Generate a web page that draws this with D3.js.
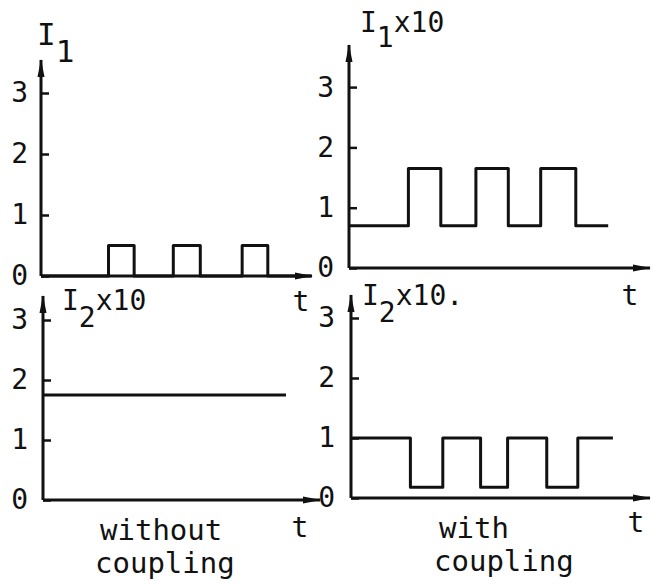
<!DOCTYPE html>
<html>
<head>
<meta charset="utf-8">
<script src="https://cdn.jsdelivr.net/npm/d3@7"></script>
<style>
  body { margin: 0; background: #fff; }
  text { font-family: "DejaVu Sans Mono", monospace; fill: #111; }
</style>
</head>
<body>
<div id="graph-area"></div>
<script>
// tick values shared by all four panels
const Y_TICKS = [0, 1, 2, 3]

// step signals: switching times (0..100 time units) and levels after each switch
const tI1Without = [0, 25, 34.5, 49, 59, 74.5, 84, 100]
const i1Without = [0, 0.5, 0, 0.5, 0, 0.5, 0, 0]

const tI1With = [0, 22, 34, 47, 59, 71, 84, 96]
const i1With = [0.7, 1.65, 0.7, 1.65, 0.7, 1.65, 0.7, 0.7]

const tI2Without = [0, 90]
const i2Without = [1.75, 1.75]

const tI2With = [0, 22, 34, 48, 58, 72.5, 84, 97]
const i2With = [1, 0.18, 1, 0.18, 1, 0.18, 1, 1]

// labels
const titles = [
  { main: 'I', sub: '1', rest: '' },
  { main: 'I', sub: '1', rest: 'x10' },
  { main: 'I', sub: '2', rest: 'x10' },
  { main: 'I', sub: '2', rest: 'x10.' }
]
const captions = [['without', 'coupling'], ['with', 'coupling']]

// panel layout (pixels)
const panels = [
  { t: tI1Without, v: i1Without, left: 41, bottom: 276, unit: 61, top: 60, right: 312,
    title: titles[0], titlePos: [37, 45], titleSize: 31, subDy: 17, tPos: [301, 311], pad: 13 },
  { t: tI1With, v: i1With, left: 349, bottom: 268, unit: 60.3, top: 45, right: 650,
    title: titles[1], titlePos: [360, 32], titleSize: 28, subDy: 15, tPos: [630, 305], pad: 15 },
  { t: tI2Without, v: i2Without, left: 43, bottom: 500, unit: 60, top: 296, right: 320,
    title: titles[2], titlePos: [62, 310], titleSize: 28, subDy: 17, tPos: [300, 537], pad: 15 },
  { t: tI2With, v: i2With, left: 351, bottom: 498, unit: 60, top: 295, right: 650,
    title: titles[3], titlePos: [362, 305], titleSize: 28, subDy: 17, tPos: [636, 532], pad: 16 }
]

const svg = d3.select('#graph-area')
  .append('svg')
  .attr('width', 653)
  .attr('height', 585)

// arrow head for axes
svg.append('defs').append('marker')
  .attr('id', 'arrow')
  .attr('viewBox', '0 -4 18 8')
  .attr('refX', 17)
  .attr('refY', 0)
  .attr('markerWidth', 18)
  .attr('markerHeight', 8)
  .attr('markerUnits', 'userSpaceOnUse')
  .attr('orient', 'auto')
  .append('path')
  .attr('d', 'M0,-3.5L18,0L0,3.5Z')
  .attr('fill', '#111')

panels.forEach(p => {
  const xScale = d3.scaleLinear().domain([0, 100]).range([p.left, p.left + 270])
  const yScale = d3.scaleLinear().domain([0, 3]).range([p.bottom, p.bottom - 3 * p.unit])
  const g = svg.append('g')

  // y axis: ticks pointing right, labels on the left
  const yAxis = g.append('g')
    .attr('transform', 'translate(' + p.left + ',0)')
    .call(d3.axisLeft(yScale).tickValues(Y_TICKS).tickSize(-8).tickPadding(p.pad).tickFormat(d3.format('d')))
  yAxis.select('.domain').remove()
  yAxis.selectAll('.tick line').attr('stroke', '#111').attr('stroke-width', 2.5)
  yAxis.selectAll('.tick text')
    .style('font-family', '"DejaVu Sans Mono", monospace')
    .style('font-size', '28px')
    .attr('fill', '#111')

  // axis lines with arrows
  g.append('line')
    .attr('x1', p.left).attr('y1', p.bottom)
    .attr('x2', p.left).attr('y2', p.top)
    .attr('stroke', '#111').attr('stroke-width', 3)
    .attr('marker-end', 'url(#arrow)')
  g.append('line')
    .attr('x1', p.left).attr('y1', p.bottom)
    .attr('x2', p.right).attr('y2', p.bottom)
    .attr('stroke', '#111').attr('stroke-width', 3)
    .attr('marker-end', 'url(#arrow)')

  // signal
  const pts = p.t.map((t, i) => [t, p.v[i]])
  const line = d3.line()
    .x(d => xScale(d[0]))
    .y(d => yScale(d[1]))
    .curve(d3.curveStepAfter)
  g.append('path')
    .datum(pts)
    .attr('d', line)
    .attr('fill', 'none')
    .attr('stroke', '#111')
    .attr('stroke-width', 3)
    .attr('stroke-linejoin', 'round')

  // title like I1x10
  const title = g.append('text')
    .attr('x', p.titlePos[0])
    .attr('y', p.titlePos[1])
    .style('font-size', p.titleSize + 'px')
  title.append('tspan').text(p.title.main)
  title.append('tspan').attr('dy', p.subDy).text(p.title.sub)
  if (p.title.rest) title.append('tspan').attr('dy', -p.subDy).text(p.title.rest)

  // t label
  g.append('text')
    .attr('x', p.tPos[0])
    .attr('y', p.tPos[1])
    .attr('text-anchor', 'middle')
    .style('font-size', '28px')
    .text('t')
})

// captions under the bottom panels
const captionPos = [[97, 540], [436, 538]]
captions.forEach((c, i) => {
  svg.append('text')
    .attr('x', captionPos[i][0] + 3)
    .attr('y', captionPos[i][1])
    .style('font-size', '29px')
    .text(c[0])
  svg.append('text')
    .attr('x', captionPos[i][0] - 2)
    .attr('y', captionPos[i][1] + 33)
    .style('font-size', '29px')
    .text(c[1])
})
</script>
</body>
</html>
